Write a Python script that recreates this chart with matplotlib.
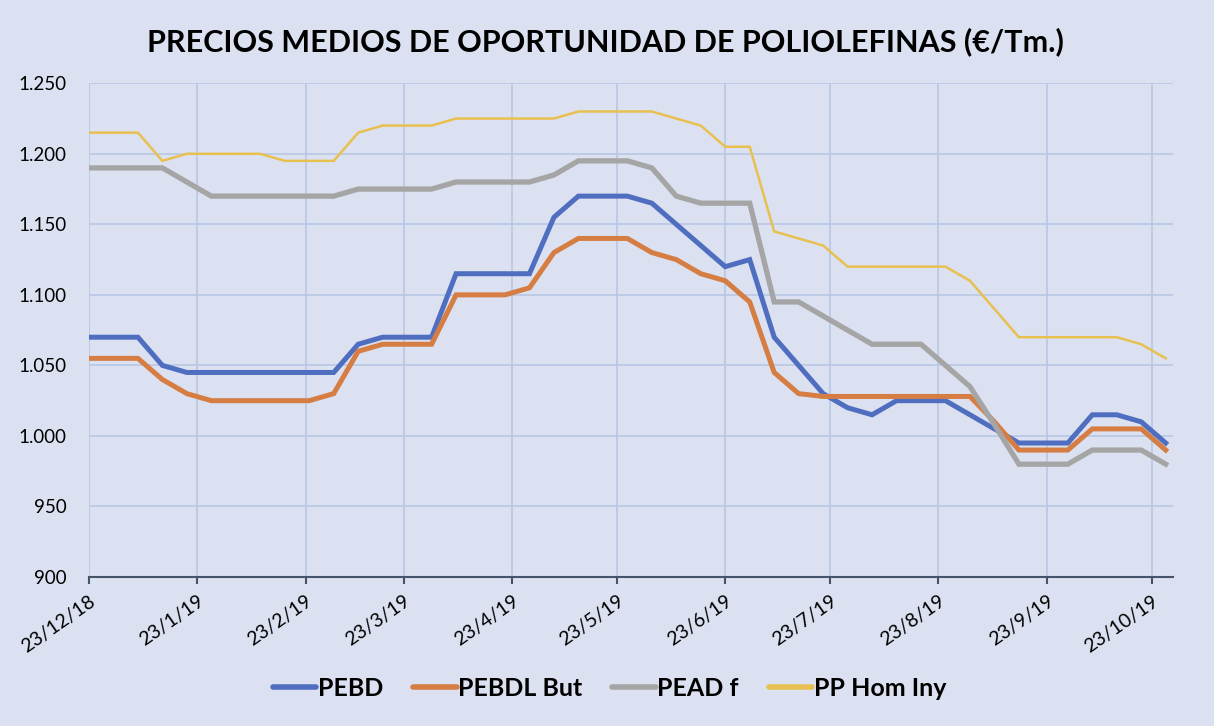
import matplotlib
matplotlib.use("Agg")
import matplotlib.pyplot as plt
import matplotlib.dates as mdates
import matplotlib.ticker as mticker
import pandas as pd

# semanas desde 23/12/2018
fechas = pd.date_range("2018-12-23", periods=45, freq="7D")

pebd = [1070, 1070, 1070, 1050, 1045, 1045, 1045, 1045, 1045, 1045,
        1045, 1065, 1070, 1070, 1070, 1115, 1115, 1115, 1115, 1155,
        1170, 1170, 1170, 1165, 1150, 1135, 1120, 1125, 1070, 1050,
        1030, 1020, 1015, 1025, 1025, 1025, 1015, 1005, 995, 995,
        995, 1015, 1015, 1010, 995]
pebdl_but = [1055, 1055, 1055, 1040, 1030, 1025, 1025, 1025, 1025, 1025,
             1030, 1060, 1065, 1065, 1065, 1100, 1100, 1100, 1105, 1130,
             1140, 1140, 1140, 1130, 1125, 1115, 1110, 1095, 1045, 1030,
             1028, 1028, 1028, 1028, 1028, 1028, 1028, 1010, 990, 990,
             990, 1005, 1005, 1005, 990]
pead_f = [1190, 1190, 1190, 1190, 1180, 1170, 1170, 1170, 1170, 1170,
          1170, 1175, 1175, 1175, 1175, 1180, 1180, 1180, 1180, 1185,
          1195, 1195, 1195, 1190, 1170, 1165, 1165, 1165, 1095, 1095,
          1085, 1075, 1065, 1065, 1065, 1050, 1035, 1008, 980, 980,
          980, 990, 990, 990, 980]
pp_hom_iny = [1215, 1215, 1215, 1195, 1200, 1200, 1200, 1200, 1195, 1195,
              1195, 1215, 1220, 1220, 1220, 1225, 1225, 1225, 1225, 1225,
              1230, 1230, 1230, 1230, 1225, 1220, 1205, 1205, 1145, 1140,
              1135, 1120, 1120, 1120, 1120, 1120, 1110, 1090, 1070, 1070,
              1070, 1070, 1070, 1065, 1055]

series = [
    ("PEBD", pebd, "#4F6EC0", 3.6),
    ("PEBDL But", pebdl_but, "#D57D42", 3.6),
    ("PEAD f", pead_f, "#A5A5A5", 3.8),
    ("PP Hom Iny", pp_hom_iny, "#E8C050", 1.8),
]

plt.rcParams["font.family"] = ["Lato", "DejaVu Sans"]
BG = "#DCE1F1"
GRID = "#B7C7E6"

fig = plt.figure(figsize=(12.14, 7.26), dpi=100, facecolor=BG)
ax = fig.add_axes([0.0733, 0.2052, 0.8927, 0.6801])
ax.set_facecolor(BG)

for nombre, valores, color, lw in series:
    ax.plot(fechas, valores, color=color, lw=lw, label=nombre,
            solid_joinstyle="miter", zorder=3)

ax.set_ylim(900, 1250)
ax.set_xlim(pd.Timestamp("2018-12-23"), pd.Timestamp("2019-10-29"))
ax.yaxis.set_major_locator(mticker.MultipleLocator(50))
ax.yaxis.set_major_formatter(
    mticker.FuncFormatter(lambda v, p: f"{int(v):,}".replace(",", ".")))

ticks_x = pd.date_range("2018-12-23", "2019-10-23", freq="MS") + pd.Timedelta(days=22)
ticks_x = [pd.Timestamp("2018-12-23")] + [t for t in ticks_x if t > pd.Timestamp("2018-12-23")]
ax.set_xticks(ticks_x)
ax.xaxis.set_major_formatter(
    mticker.FuncFormatter(lambda v, p: (lambda d: f"{d.day}/{d.month}/{d.strftime('%y')}")(mdates.num2date(v))))

ax.grid(True, color=GRID, lw=1.2, zorder=0)
for s in ["top", "right", "left"]:
    ax.spines[s].set_visible(False)
ax.spines["bottom"].set_color("#44546A")
ax.spines["bottom"].set_linewidth(1.5)
ax.spines["bottom"].set_zorder(4)

ax.tick_params(axis="y", length=0, pad=16, labelsize=13.5, labelcolor="black")
ax.tick_params(axis="x", length=5, width=1.5, color="#44546A", pad=6,
               labelsize=14, labelcolor="black")
plt.setp(ax.get_xticklabels(), rotation=35, ha="right", rotation_mode="anchor")

fig.text(0.4985, 0.943, "PRECIOS MEDIOS DE OPORTUNIDAD DE POLIOLEFINAS (€/Tm.)",
         ha="center", va="center", fontsize=22, fontweight="bold")

fig.legend(loc="center", bbox_to_anchor=(0.502, 0.052), ncol=4, frameon=False,
           prop={"weight": "bold", "size": 18}, handlelength=1.75,
           handletextpad=0.05, columnspacing=1.2)
for h in fig.legends[0].get_lines():
    h.set_linewidth(4)
    h.set_solid_capstyle("round")

fig.savefig("out.png", dpi=100, facecolor=BG)
